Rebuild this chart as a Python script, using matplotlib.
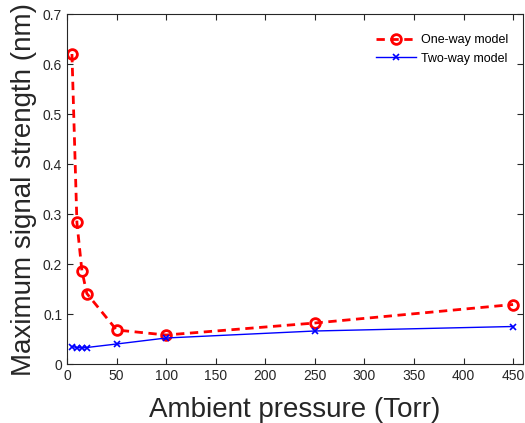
import matplotlib
matplotlib.use("Agg")
import matplotlib.pyplot as plt

# pressures (Torr) and peak signal (nm)
pressure = [5, 10, 15, 20, 50, 100, 250, 450]
one_way = [0.620, 0.283, 0.187, 0.141, 0.068, 0.058, 0.082, 0.119]
two_way = [0.035, 0.033, 0.032, 0.033, 0.040, 0.052, 0.066, 0.075]

plt.rcParams['font.family'] = ['Liberation Sans', 'DejaVu Sans']

fig = plt.figure(figsize=(5.25, 4.23), dpi=100)
ax = fig.add_axes([67/525, 1-364/423, (523-67)/525, (364-14)/423])

ax.plot(pressure, one_way, '--o', color='red', lw=2, ms=7, mew=2,
        mfc='none', dashes=(3, 2), label='One-way model')
ax.plot(pressure, two_way, '-x', color='blue', lw=1, ms=5, mew=1.2,
        label='Two-way model')

ax.set_xlim(0, 460)
ax.set_ylim(0, 0.7)
ax.set_xticks(range(0, 451, 50))
ax.set_yticks([0, 0.1, 0.2, 0.3, 0.4, 0.5, 0.6, 0.7])
ax.set_yticklabels(['0', '0.1', '0.2', '0.3', '0.4', '0.5', '0.6', '0.7'])
ax.tick_params(direction='in', top=True, right=True, labelsize=10,
               length=4, width=0.8, colors='#262626', labelcolor='#262626')
for s in ax.spines.values():
    s.set_linewidth(0.8)
    s.set_color('#262626')

ax.set_xlabel('Ambient pressure (Torr)', fontsize=20, color='#262626', labelpad=10)
ax.set_ylabel('Maximum signal strength (nm)', fontsize=20, color='#262626', labelpad=4)

ax.legend(loc='upper right', bbox_to_anchor=(0.993, 0.974), frameon=False,
          fontsize=9, handlelength=3.2, borderaxespad=0.5, labelspacing=0.5,
          handletextpad=0.4)

fig.savefig('out.png', dpi=100)
